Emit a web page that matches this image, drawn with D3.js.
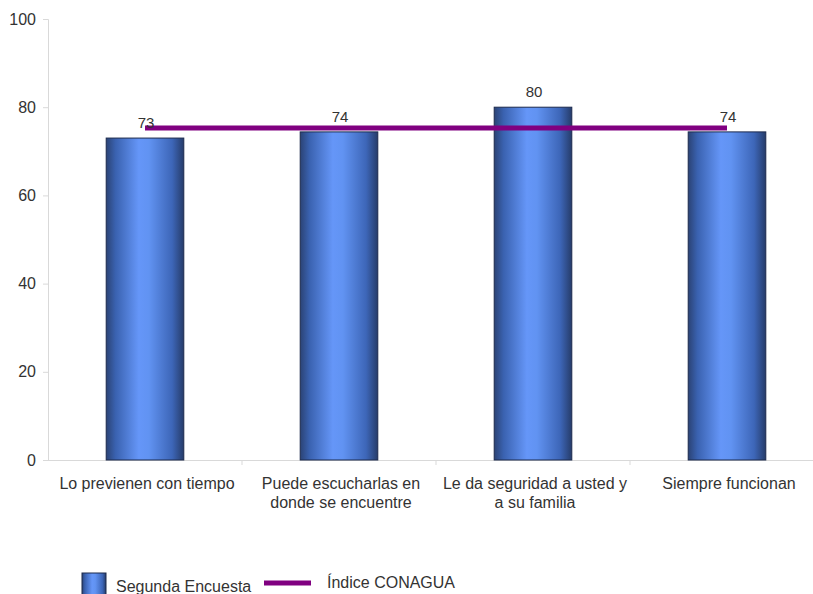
<!DOCTYPE html>
<html><head><meta charset="utf-8">
<script src="https://cdn.jsdelivr.net/npm/d3@7/dist/d3.min.js"></script>
<style>body{margin:0;background:#fff}svg{display:block;font-family:"Liberation Sans",Arial,sans-serif}</style>
</head><body><svg id="c" width="813" height="594"></svg>
<script>
const categories = [["Lo previenen con tiempo"],["Puede escucharlas en","donde se encuentre"],["Le da seguridad a usted y","a su familia"],["Siempre funcionan"]];
const barValues = [73, 74.4, 80, 74.4];
const barLabels = ["73", "74", "80", "74"];
const lineValues = [75.3, 75.3, 75.3, 75.3];
const yTicks = [0, 20, 40, 60, 80, 100];
const seriesNames = ["Segunda Encuesta", "Índice CONAGUA"];

(function(){
const svg = d3.select("#c");
const pLeft = 48, pRight = 824, pTop = 19, pBottom = 460;
const x = d3.scaleBand().domain(d3.range(categories.length)).range([pLeft, pRight]).paddingInner(0.6).paddingOuter(0.3);
const y = d3.scaleLinear().domain([0, 100]).range([pBottom, pTop]);

const defs = svg.append("defs");
const g = defs.append("linearGradient").attr("id","bg").attr("x1","0").attr("x2","1").attr("y1","0").attr("y2","0");
[[0,"#2b4375"],[0.12,"#3a62b0"],[0.42,"#6596f8"],[0.55,"#6193f2"],[0.85,"#3d66b8"],[1,"#263c6a"]].forEach(([o,c])=>g.append("stop").attr("offset",o).attr("stop-color",c));

// y axis
const yAxis = d3.axisLeft(y).tickValues(yTicks).tickSize(5).tickPadding(7);
const ya = svg.append("g").attr("transform",`translate(${pLeft},0)`).call(yAxis);
ya.select(".domain").attr("stroke","#d9d9d9");
ya.selectAll(".tick line").attr("stroke","#d9d9d9");
ya.selectAll(".tick text").attr("fill","#333").style("font-size","16px").style("font-family","'Liberation Sans',Arial,sans-serif");

// x axis line with boundary ticks
svg.append("line").attr("x1",pLeft).attr("x2",813).attr("y1",pBottom+0.5).attr("y2",pBottom+0.5).attr("stroke","#d9d9d9");
d3.range(1, categories.length).forEach(i=>{
  const bx = pLeft + i*(pRight-pLeft)/categories.length;
  svg.append("line").attr("x1",bx).attr("x2",bx).attr("y1",pBottom).attr("y2",pBottom+5).attr("stroke","#d9d9d9");
});

// bars
svg.append("g").selectAll("rect").data(barValues).join("rect")
  .attr("x",(d,i)=>x(i)).attr("width",x.bandwidth())
  .attr("y",d=>y(d)).attr("height",d=>pBottom-y(d))
  .attr("fill","url(#bg)").attr("stroke","#1c2a4d").attr("stroke-width",1);

// line
const cx = i => x(i)+x.bandwidth()/2;
svg.append("path").datum(lineValues)
  .attr("d", d3.line().x((d,i)=>cx(i)).y(d=>y(d)))
  .attr("fill","none").attr("stroke","#800080").attr("stroke-width",5);

// value labels
svg.append("g").selectAll("text").data(barValues).join("text")
  .attr("x",(d,i)=>cx(i)+1).attr("y",d=>y(d)-10)
  .attr("text-anchor","middle").attr("fill","#333").style("font-size","15px")
  .text((d,i)=>barLabels[i]);

// category labels
categories.forEach((lines,i)=>{
  const t = svg.append("text").attr("x",cx(i)+2).attr("y",489).attr("text-anchor","middle").attr("fill","#333").style("font-size","16px");
  lines.forEach((l,j)=>t.append("tspan").attr("x",cx(i)+2).attr("dy", j===0?0:19).text(l));
});

// legend
svg.append("rect").attr("x",82).attr("y",573).attr("width",24).attr("height",24).attr("fill","url(#bg)").attr("stroke","#1c2a4d");
svg.append("text").attr("x",116).attr("y",592).attr("fill","#333").style("font-size","16px").text(seriesNames[0]);
svg.append("line").attr("x1",264).attr("x2",311).attr("y1",583).attr("y2",583).attr("stroke","#800080").attr("stroke-width",5);
svg.append("text").attr("x",327).attr("y",588).attr("fill","#333").style("font-size","16px").text(seriesNames[1]);
})();
</script></body></html>
